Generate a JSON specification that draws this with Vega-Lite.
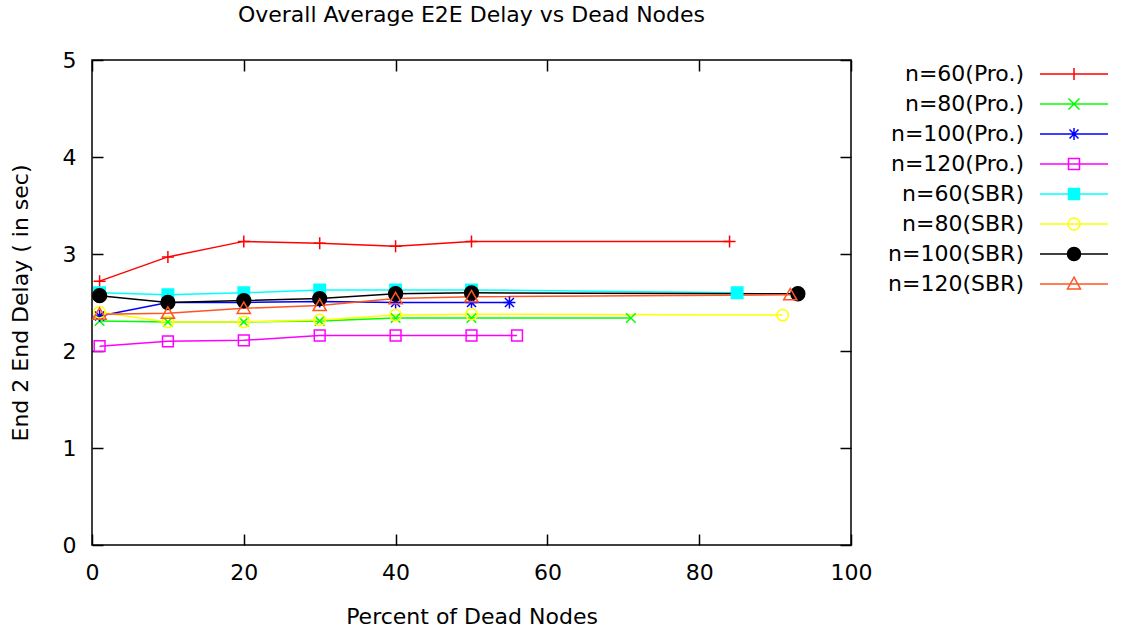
{
  "$schema": "https://vega.github.io/schema/vega-lite/v6.json",
  "autosize": {"type": "none"},
  "width": 759,
  "height": 485,
  "padding": {"left": 92, "top": 60, "right": 270, "bottom": 90},
  "background": "white",
  "title": {"text": "Overall Average E2E Delay vs Dead Nodes", "font": "DejaVu Sans", "fontSize": 22, "fontWeight": "normal", "color": "black", "anchor": "middle", "frame": "group", "offset": 22},
  "config": {
    "view": {"stroke": "black", "strokeWidth": 1.5},
    "axis": {"grid": false, "domain": false, "labelFlush": false, "tickColor": "black", "tickWidth": 1.5, "tickSize": -11, "labelFont": "DejaVu Sans", "labelFontSize": 22, "labelColor": "black", "titleFont": "DejaVu Sans", "titleFontSize": 22, "titleFontWeight": "normal", "titleColor": "black"},
    "point": {"strokeWidth": 1.5, "opacity": 1, "size": 144},
    "legend": {
      "orient": "none", "legendX": 971, "legendY": 3, "padding": 0,
      "labelFont": "DejaVu Sans", "labelFontSize": 22, "labelColor": "black", "labelAlign": "right", "labelOffset": -61, "labelLimit": 400,
      "symbolSize": 400, "symbolStrokeWidth": 1.5, "rowPadding": 8
    }
  },
  "data": {"values": [
    {"series": "n=60(Pro.)", "x": 1, "y": 2.72}, {"series": "n=60(Pro.)", "x": 10, "y": 2.97}, {"series": "n=60(Pro.)", "x": 20, "y": 3.13}, {"series": "n=60(Pro.)", "x": 30, "y": 3.11}, {"series": "n=60(Pro.)", "x": 40, "y": 3.08}, {"series": "n=60(Pro.)", "x": 50, "y": 3.13}, {"series": "n=60(Pro.)", "x": 84, "y": 3.13},
    {"series": "n=80(Pro.)", "x": 1, "y": 2.31}, {"series": "n=80(Pro.)", "x": 10, "y": 2.30}, {"series": "n=80(Pro.)", "x": 20, "y": 2.30}, {"series": "n=80(Pro.)", "x": 30, "y": 2.31}, {"series": "n=80(Pro.)", "x": 40, "y": 2.34}, {"series": "n=80(Pro.)", "x": 50, "y": 2.34}, {"series": "n=80(Pro.)", "x": 71, "y": 2.34},
    {"series": "n=100(Pro.)", "x": 1, "y": 2.36}, {"series": "n=100(Pro.)", "x": 10, "y": 2.50}, {"series": "n=100(Pro.)", "x": 20, "y": 2.50}, {"series": "n=100(Pro.)", "x": 30, "y": 2.51}, {"series": "n=100(Pro.)", "x": 40, "y": 2.50}, {"series": "n=100(Pro.)", "x": 50, "y": 2.50}, {"series": "n=100(Pro.)", "x": 55, "y": 2.50},
    {"series": "n=120(Pro.)", "x": 1, "y": 2.05}, {"series": "n=120(Pro.)", "x": 10, "y": 2.10}, {"series": "n=120(Pro.)", "x": 20, "y": 2.11}, {"series": "n=120(Pro.)", "x": 30, "y": 2.16}, {"series": "n=120(Pro.)", "x": 40, "y": 2.16}, {"series": "n=120(Pro.)", "x": 50, "y": 2.16}, {"series": "n=120(Pro.)", "x": 56, "y": 2.16},
    {"series": "n=60(SBR)", "x": 1, "y": 2.60}, {"series": "n=60(SBR)", "x": 10, "y": 2.58}, {"series": "n=60(SBR)", "x": 20, "y": 2.60}, {"series": "n=60(SBR)", "x": 30, "y": 2.63}, {"series": "n=60(SBR)", "x": 40, "y": 2.63}, {"series": "n=60(SBR)", "x": 50, "y": 2.63}, {"series": "n=60(SBR)", "x": 85, "y": 2.60},
    {"series": "n=80(SBR)", "x": 1, "y": 2.40}, {"series": "n=80(SBR)", "x": 10, "y": 2.30}, {"series": "n=80(SBR)", "x": 20, "y": 2.30}, {"series": "n=80(SBR)", "x": 30, "y": 2.32}, {"series": "n=80(SBR)", "x": 40, "y": 2.37}, {"series": "n=80(SBR)", "x": 50, "y": 2.38}, {"series": "n=80(SBR)", "x": 91, "y": 2.37},
    {"series": "n=100(SBR)", "x": 1, "y": 2.57}, {"series": "n=100(SBR)", "x": 10, "y": 2.50}, {"series": "n=100(SBR)", "x": 20, "y": 2.52}, {"series": "n=100(SBR)", "x": 30, "y": 2.54}, {"series": "n=100(SBR)", "x": 40, "y": 2.59}, {"series": "n=100(SBR)", "x": 50, "y": 2.60}, {"series": "n=100(SBR)", "x": 93, "y": 2.59},
    {"series": "n=120(SBR)", "x": 1, "y": 2.38}, {"series": "n=120(SBR)", "x": 10, "y": 2.39}, {"series": "n=120(SBR)", "x": 20, "y": 2.44}, {"series": "n=120(SBR)", "x": 30, "y": 2.47}, {"series": "n=120(SBR)", "x": 40, "y": 2.54}, {"series": "n=120(SBR)", "x": 50, "y": 2.56}, {"series": "n=120(SBR)", "x": 92, "y": 2.58}
  ]},
  "resolve": {"axis": {"x": "independent", "y": "independent"}},
  "encoding": {
    "x": {"field": "x", "type": "quantitative", "scale": {"domain": [0, 100], "nice": false, "zero": false}, "axis": null},
    "y": {"field": "y", "type": "quantitative", "scale": {"domain": [0, 5], "nice": false, "zero": false}, "axis": null},
    "stroke": {"field": "series", "type": "nominal", "scale": {"domain": ["n=60(Pro.)", "n=80(Pro.)", "n=100(Pro.)", "n=120(Pro.)", "n=60(SBR)", "n=80(SBR)", "n=100(SBR)", "n=120(SBR)"], "range": ["#ff0000", "#00ff00", "#0000ff", "#ff00ff", "#00ffff", "#ffff00", "#000000", "#ff5522"]},
      "legend": {"title": null,
        "encoding": {"symbols": {"shape": {"value": {"expr": "['M-3.4,0H3.4M0,-0.6V0.6','M-3.4,0H3.4M-0.55,-0.55L0.55,0.55M-0.55,0.55L0.55,-0.55','M-3.4,0H3.4M0,-0.6V0.6M-0.45,-0.45L0.45,0.45M-0.45,0.45L0.45,-0.45','M-3.4,0H3.4M-0.55,-0.55H0.55V0.55H-0.55Z','M-3.4,0H3.4M-0.55,-0.55H0.55V0.55H-0.55Z','M-3.4,0H3.4M-0.6,0A0.6,0.6,0,1,1,0.6,0A0.6,0.6,0,1,1,-0.6,0','M-3.4,0H3.4M-0.65,0A0.65,0.65,0,1,1,0.65,0A0.65,0.65,0,1,1,-0.65,0','M-3.4,0H3.4M0,-0.68L0.65,0.5H-0.65Z'][indexof(['n=60(Pro.)','n=80(Pro.)','n=100(Pro.)','n=120(Pro.)','n=60(SBR)','n=80(SBR)','n=100(SBR)','n=120(SBR)'], datum.value)]"}}}}}}
  },
  "layer": [
    {
      "mark": {"type": "line", "strokeWidth": 1.5},
      "encoding": {
        "x": {"field": "x", "type": "quantitative", "axis": {"orient": "bottom", "values": [0, 20, 40, 60, 80, 100], "labelPadding": 28, "title": "Percent of Dead Nodes", "titlePadding": 23}},
        "y": {"field": "y", "type": "quantitative", "axis": {"orient": "left", "values": [0, 1, 2, 3, 4, 5], "labelPadding": 27, "title": "End 2 End Delay ( in sec)", "titlePadding": 30}}
      }
    },
    {
      "transform": [{"filter": "datum.series === 'n=60(Pro.)'"}],
      "mark": {"type": "point", "shape": "M-1,0H1M0,-1V1"},
      "encoding": {
        "x": {"field": "x", "type": "quantitative", "axis": {"orient": "top", "values": [0, 20, 40, 60, 80, 100], "labels": false, "title": null}},
        "y": {"field": "y", "type": "quantitative", "axis": {"orient": "right", "values": [0, 1, 2, 3, 4, 5], "labels": false, "title": null}},
        "fill": {"field": "series", "type": "nominal", "scale": {"domain": ["n=60(Pro.)", "n=80(Pro.)", "n=100(Pro.)", "n=120(Pro.)", "n=60(SBR)", "n=80(SBR)", "n=100(SBR)", "n=120(SBR)"], "range": ["transparent", "transparent", "transparent", "transparent", "#00ffff", "transparent", "#000000", "transparent"]},
          "legend": {"title": null,
            "encoding": {"symbols": {"shape": {"value": {"expr": "['M-3.4,0H3.4M0,-0.6V0.6','M-3.4,0H3.4M-0.55,-0.55L0.55,0.55M-0.55,0.55L0.55,-0.55','M-3.4,0H3.4M0,-0.6V0.6M-0.45,-0.45L0.45,0.45M-0.45,0.45L0.45,-0.45','M-3.4,0H3.4M-0.55,-0.55H0.55V0.55H-0.55Z','M-3.4,0H3.4M-0.55,-0.55H0.55V0.55H-0.55Z','M-3.4,0H3.4M-0.6,0A0.6,0.6,0,1,1,0.6,0A0.6,0.6,0,1,1,-0.6,0','M-3.4,0H3.4M-0.65,0A0.65,0.65,0,1,1,0.65,0A0.65,0.65,0,1,1,-0.65,0','M-3.4,0H3.4M0,-0.68L0.65,0.5H-0.65Z'][indexof(['n=60(Pro.)','n=80(Pro.)','n=100(Pro.)','n=120(Pro.)','n=60(SBR)','n=80(SBR)','n=100(SBR)','n=120(SBR)'], datum.value)]"}}}}}}
      }
    },
    {
      "transform": [{"filter": "datum.series === 'n=80(Pro.)'"}],
      "mark": {"type": "point", "shape": "M-0.8,-0.8L0.8,0.8M-0.8,0.8L0.8,-0.8"},
      "encoding": {"fill": {"field": "series", "type": "nominal"}}
    },
    {
      "transform": [{"filter": "datum.series === 'n=100(Pro.)'"}],
      "mark": {"type": "point", "shape": "M-1,0H1M0,-1V1M-0.75,-0.75L0.75,0.75M-0.75,0.75L0.75,-0.75"},
      "encoding": {"fill": {"field": "series", "type": "nominal"}}
    },
    {
      "transform": [{"filter": "datum.series === 'n=120(Pro.)'"}],
      "mark": {"type": "point", "shape": "M-0.9,-0.9H0.9V0.9H-0.9Z"},
      "encoding": {"fill": {"field": "series", "type": "nominal"}}
    },
    {
      "transform": [{"filter": "datum.series === 'n=60(SBR)'"}],
      "mark": {"type": "point", "shape": "M-0.95,-0.95H0.95V0.95H-0.95Z"},
      "encoding": {"fill": {"field": "series", "type": "nominal"}}
    },
    {
      "transform": [{"filter": "datum.series === 'n=80(SBR)'"}],
      "mark": {"type": "point", "shape": "M-0.95,0A0.95,0.95,0,1,1,0.95,0A0.95,0.95,0,1,1,-0.95,0"},
      "encoding": {"fill": {"field": "series", "type": "nominal"}}
    },
    {
      "transform": [{"filter": "datum.series === 'n=100(SBR)'"}],
      "mark": {"type": "point", "shape": "M-1.15,0A1.15,1.15,0,1,1,1.15,0A1.15,1.15,0,1,1,-1.15,0"},
      "encoding": {"fill": {"field": "series", "type": "nominal"}}
    },
    {
      "transform": [{"filter": "datum.series === 'n=120(SBR)'"}],
      "mark": {"type": "point", "shape": "M0,-1.05L1.1,0.85H-1.1Z"},
      "encoding": {"fill": {"field": "series", "type": "nominal"}}
    }
  ]
}
